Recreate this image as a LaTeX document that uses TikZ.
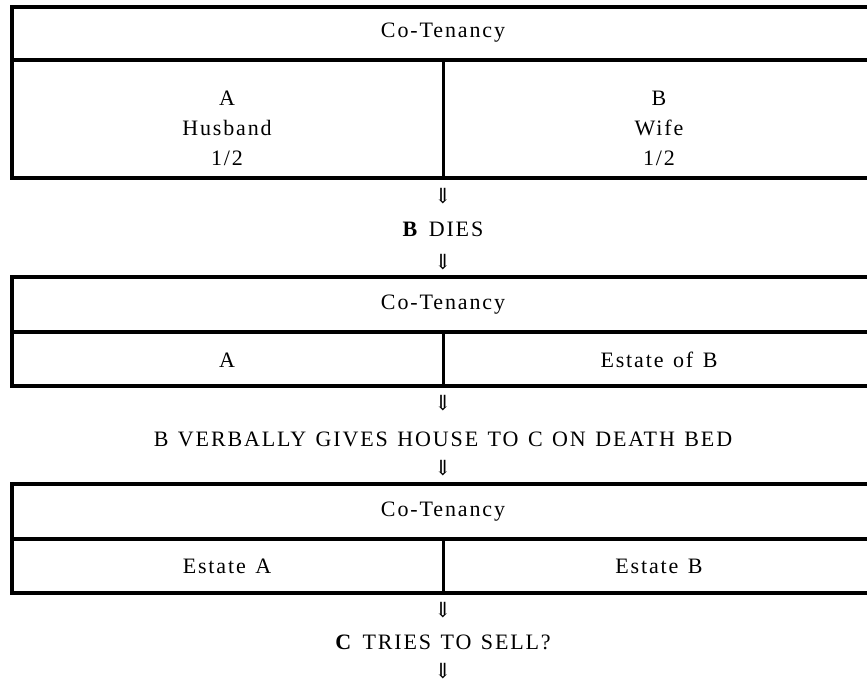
\documentclass[tikz,border=0pt]{standalone}
\usepackage{fontspec}
\setmainfont{Liberation Serif}[LetterSpace=8.5]
\newfontfamily\arrowfont{DejaVu Serif}
\newcommand\widespaces{\spaceskip=9.5pt plus 1pt\relax}
\tikzset{
  frame/.style={line width=3.2pt},
  hdiv/.style={line width=4.2pt},
  vdiv/.style={line width=3pt},
  lbl/.style={font=\fontsize{22}{26}\selectfont\widespaces, inner sep=0pt, align=center},
  arr/.style={font=\arrowfont\fontsize{21}{24}\selectfont, inner sep=0pt},
}
\begin{document}
\begin{tikzpicture}[x=1pt,y=-1pt]
\useasboundingbox (0,0) rectangle (867,683);
% Box 1
\draw[frame] (12,7) rectangle (875,178);
\draw[hdiv] (12,60) -- (875,60);
\draw[vdiv] (443,60) -- (443,178);
\node[lbl] (t1) at (443,33) {Co-Tenancy};
\node[lbl] (a1) at (227,128) {A\\[4pt]Husband\\[4pt]1/2};
\node[lbl] (b1) at (659,128) {B\\[4pt]Wife\\[4pt]1/2};
\node[arr] (ar1) at (443,196) {⇓};
\node[lbl] (s1) at (443,229) {\textbf{B} DIES};
\node[arr] (ar2) at (443,262) {⇓};
% Box 2
\draw[frame] (12,277) rectangle (875,386);
\draw[hdiv] (12,332) -- (875,332);
\draw[vdiv] (443,332) -- (443,386);
\node[lbl] (t2) at (443,305) {Co-Tenancy};
\node[lbl] (a2) at (227,360) {A};
\node[lbl] (b2) at (659,360) {Estate of B};
\node[arr] (ar3) at (443,403) {⇓};
\node[lbl] (s2) at (443,439) {B VERBALLY GIVES HOUSE TO C ON DEATH BED};
\node[arr] (ar4) at (443,468) {⇓};
% Box 3
\draw[frame] (12,484) rectangle (875,593);
\draw[hdiv] (12,539) -- (875,539);
\draw[vdiv] (443,539) -- (443,593);
\node[lbl] (t3) at (443,512) {Co-Tenancy};
\node[lbl] (a3) at (227,566) {Estate A};
\node[lbl] (b3) at (659,566) {Estate B};
\node[arr] (ar5) at (443,610) {⇓};
\node[lbl] (s3) at (443,642) {\textbf{C} TRIES TO SELL?};
\node[arr] (ar6) at (443,671) {⇓};
\end{tikzpicture}
\end{document}
